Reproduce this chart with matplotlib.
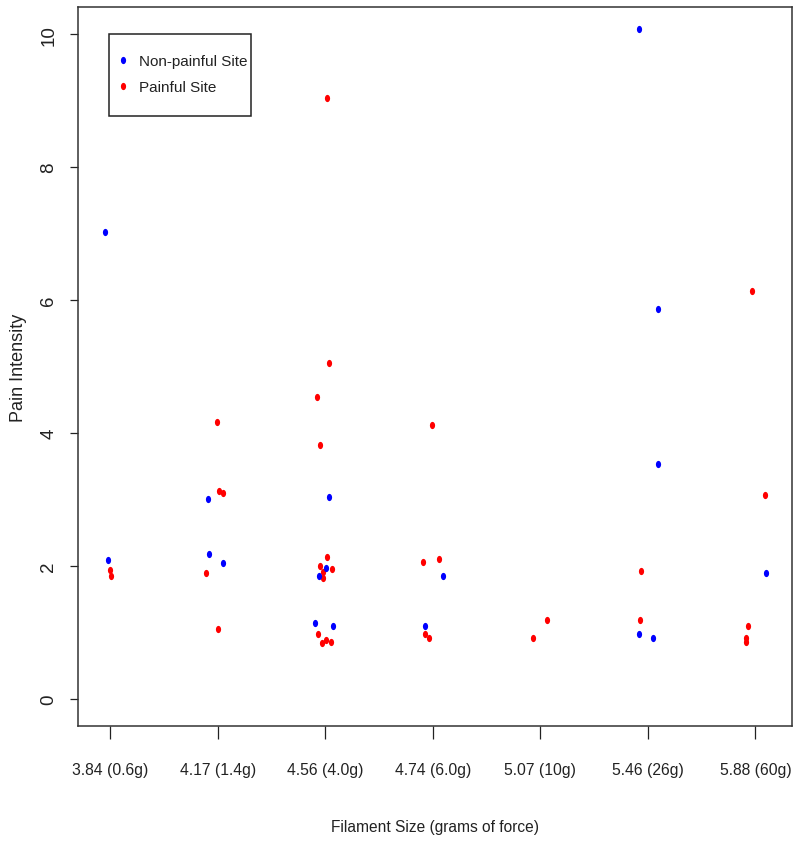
import numpy as np
import matplotlib
matplotlib.use("Agg")
import matplotlib.pyplot as plt
from matplotlib.path import Path
from matplotlib.patches import Rectangle

# ---------------- data ----------------
categories = ["3.84 (0.6g)", "4.17 (1.4g)", "4.56 (4.0g)", "4.74 (6.0g)",
              "5.07 (10g)", "5.46 (26g)", "5.88 (60g)"]

# Non-painful site: category index (1-based), jitter, pain value
np_group = [1, 1, 2, 2, 2, 3, 3, 3, 3, 3, 4, 4, 6, 6, 6, 6, 6, 7]
np_jitter = [-0.05, -0.02, -0.09, -0.08, 0.05, 0.03, 0.01, -0.06, -0.10, 0.07,
             0.09, -0.07, -0.08, 0.09, 0.09, -0.08, 0.05, 0.10]
np_pain = [7.03, 2.09, 3.00, 2.18, 2.05, 3.04, 1.97, 1.85, 1.14, 1.09,
           1.85, 1.09, 10.08, 5.86, 3.54, 0.98, 0.92, 1.89]

# Painful site
p_group = [1, 1, 2, 2, 2, 2, 2, 3, 3, 3, 3, 3, 3, 3, 3, 3, 3, 3, 3, 3,
           4, 4, 4, 4, 4, 5, 5, 6, 6, 7, 7, 7, 7, 7]
p_jitter = [0.00, 0.01, -0.01, 0.01, 0.05, -0.11, 0.00,
            0.02, 0.03, -0.08, -0.05, 0.02, -0.05, 0.06, -0.02, -0.02, -0.07, -0.03, 0.01, 0.05,
            -0.01, -0.09, 0.06, -0.07, -0.04, -0.07, 0.06, -0.06, -0.07,
            -0.03, 0.09, -0.07, -0.09, -0.09]
p_pain = [1.94, 1.85, 4.17, 3.13, 3.10, 1.89, 1.05,
          9.04, 5.05, 4.54, 3.82, 2.13, 2.00, 1.95, 1.90, 1.81, 0.97, 0.84, 0.88, 0.86,
          4.12, 2.06, 2.11, 0.98, 0.92, 0.92, 1.18, 1.93, 1.18,
          6.14, 3.06, 1.09, 0.92, 0.85]

yticks = [0, 2, 4, 6, 8, 10]

FONT = "Liberation Sans"
TXT = "#222222"

# elliptical dot (the reference picture is horizontally squeezed)
t = np.linspace(0, 2 * np.pi, 60)
dot = Path(np.column_stack([0.72 * np.cos(t), np.sin(t)]), closed=True)

W, H = 800, 845
AX_L, AX_R, AX_T, AX_B = 78, 792, 8, 727
AW, AH = AX_R - AX_L, AX_B - AX_T

fig = plt.figure(figsize=(W / 100, H / 100), dpi=100)
ax = fig.add_axes([AX_L / W, 1 - AX_B / H, AW / W, AH / H])

xp = np.array(p_group) + np.array(p_jitter)
xn = np.array(np_group) + np.array(np_jitter)
hp, = ax.plot(xp, p_pain, ls="none", marker=dot, ms=5.2, mew=0, color="#FF0000")
hn, = ax.plot(xn, np_pain, ls="none", marker=dot, ms=5.2, mew=0, color="#0000FF")

ax.set_xlim(0.70, 7.34)
ax.set_ylim(-0.41, 10.41)

ax.set_xticks(range(1, len(categories) + 1))
ax.set_xticklabels(categories, fontfamily=FONT, fontsize=11.3)
ax.set_yticks(yticks)
ax.set_yticklabels([str(v) for v in yticks], fontfamily=FONT, fontsize=13.5,
                   rotation=90, va="center")
ax.tick_params(axis="x", length=9.5, width=0.9, pad=16.2, colors=TXT)
ax.tick_params(axis="y", length=6, width=0.9, pad=9, colors=TXT)

for s in ax.spines.values():
    s.set_linewidth(1.1)
    s.set_color("#333333")

ax.set_xlabel("Filament Size (grams of force)", fontfamily=FONT, fontsize=11.2, color=TXT)
ax.xaxis.set_label_coords(0.5, (AX_B - 828) / AH)
ax.xaxis.label.set_va("center")
ax.set_ylabel("Pain Intensity", fontfamily=FONT, fontsize=13, color=TXT)
ax.yaxis.set_label_coords(-(AX_L - 19) / AW, 0.5)
ax.yaxis.label.set_va("center")

# legend box (frame drawn as a rectangle in axes coordinates)
bx0, bx1, by0, by1 = 109, 251, 35, 117
ax.add_patch(Rectangle(((bx0 - AX_L) / AW, (AX_B - by1) / AH), (bx1 - bx0) / AW,
                       (by1 - by0) / AH, transform=ax.transAxes, fill=True,
                       facecolor="white", edgecolor=TXT, lw=1.1, zorder=4))
leg = ax.legend([hn, hp], ["Non-painful Site", "Painful Site"],
                loc="upper left", bbox_to_anchor=((121 - AX_L) / AW, (AX_B - 55) / AH),
                borderaxespad=0, borderpad=0, frameon=False,
                prop={"family": FONT, "size": 11}, handlelength=0.2,
                handletextpad=0.95, labelspacing=0.78)
leg.set_zorder(5)
for txt in leg.get_texts():
    txt.set_color(TXT)

fig.savefig("out.png", dpi=100)
